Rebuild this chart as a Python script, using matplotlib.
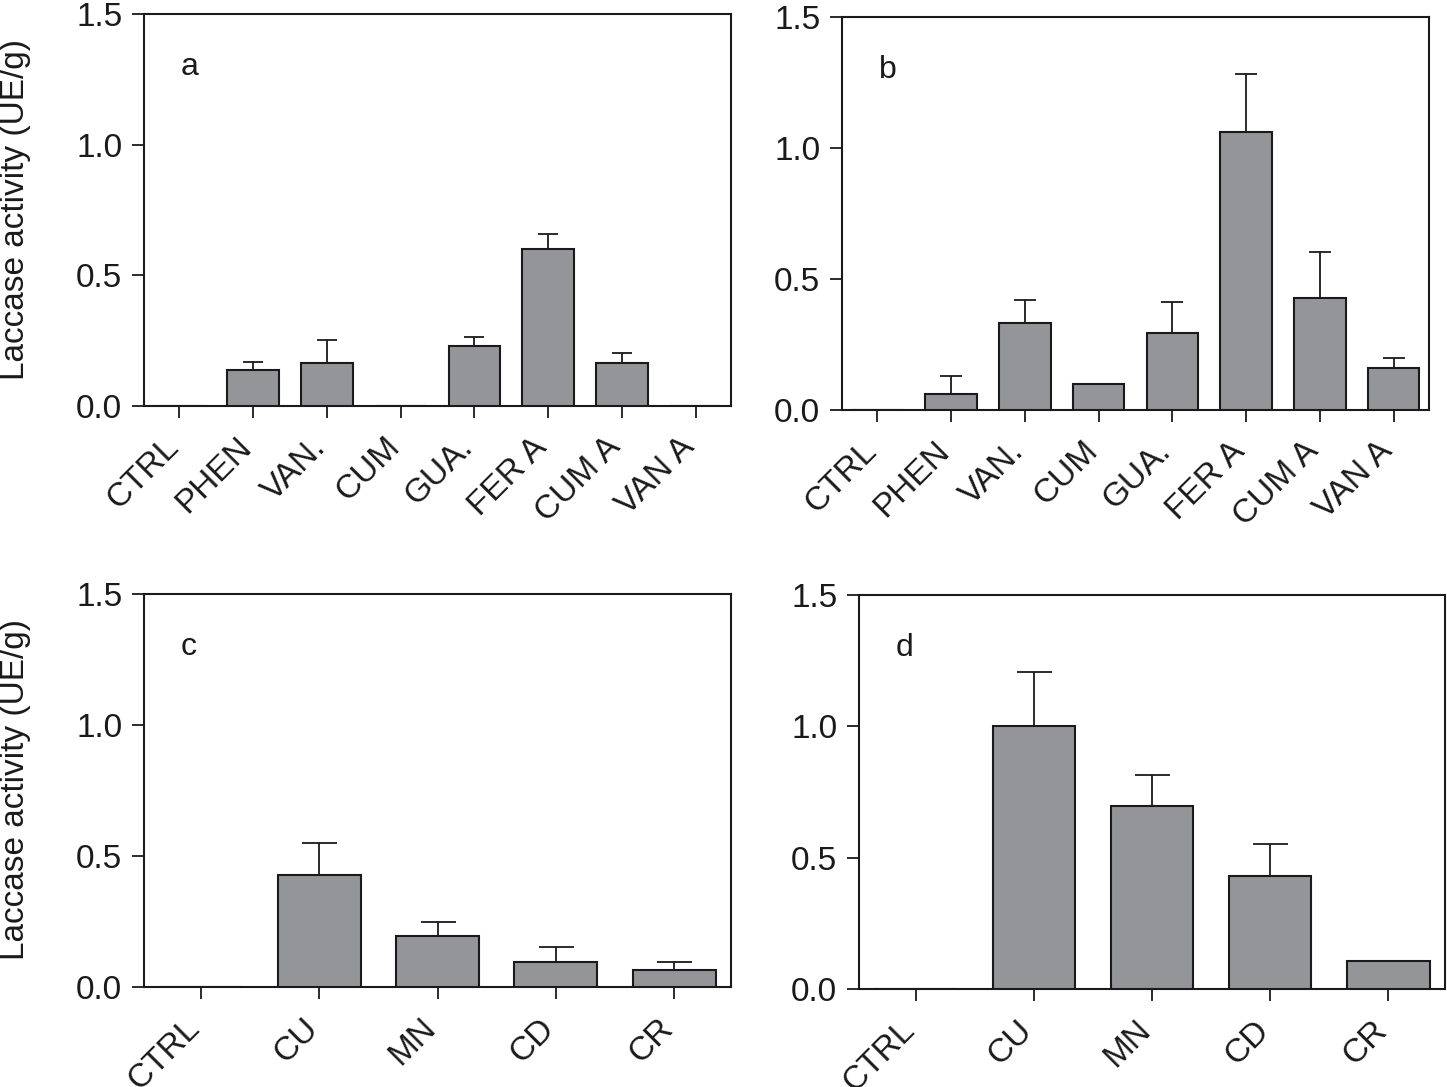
import matplotlib
matplotlib.use("Agg")
import matplotlib.pyplot as plt
import numpy as np

plt.rcParams['font.family'] = ['Liberation Sans', 'DejaVu Sans']

# ---- data ----
phenol_labels = ["CTRL", "PHEN", "VAN.", "CUM", "GUA.", "FER A", "CUM A", "VAN A"]
metal_labels = ["CTRL", "CU", "MN", "CD", "CR"]

a_values = [0.0, 0.137, 0.166, 0.0, 0.230, 0.600, 0.166, 0.0]
a_errors = [0.0, 0.031, 0.085, 0.0, 0.034, 0.059, 0.035, 0.0]

b_values = [0.0, 0.060, 0.331, 0.098, 0.294, 1.060, 0.429, 0.161]
b_errors = [0.0, 0.069, 0.088, 0.0, 0.117, 0.221, 0.173, 0.036]

c_values = [0.0, 0.428, 0.194, 0.096, 0.063]
c_errors = [0.0, 0.120, 0.056, 0.056, 0.033]

d_values = [0.0, 1.000, 0.696, 0.430, 0.105]
d_errors = [0.0, 0.206, 0.119, 0.121, 0.0]

panel_letters = ["a", "b", "c", "d"]
y_ticks = [0.0, 0.5, 1.0, 1.5]
y_label = "Laccase activity (UE/g)"

W, H = 1447, 1087
fig = plt.figure(figsize=(W / 100, H / 100), dpi=100)

def px_axes(x0, x1, ytop, ybot):
    return fig.add_axes([x0 / W, 1 - ybot / H, (x1 - x0) / W, (ybot - ytop) / H])

axes = [
    px_axes(144, 731, 14, 406),
    px_axes(842, 1429, 17, 410),
    px_axes(144, 731, 594, 987),
    px_axes(859, 1445, 595, 989),
]

panels = [
    (phenol_labels, a_values, a_errors, 7.5),
    (phenol_labels, b_values, b_errors, 8.0),
    (metal_labels, c_values, c_errors, 12.6),
    (metal_labels, d_values, d_errors, 12.6),
]

FS = 24
bar_color = "#939598"
for ax, (labels, vals, errs, cap), letter in zip(axes, panels, panel_letters):
    x = np.arange(len(labels))
    ax.bar(x, vals, width=0.7, color=bar_color, edgecolor="#1a1a1a",
           linewidth=1.5, zorder=3)
    e = np.array(errs)
    mask = e > 0
    ax.errorbar(x[mask], np.array(vals)[mask],
                yerr=[np.zeros(mask.sum()), e[mask]],
                fmt="none", ecolor="#1a1a1a", elinewidth=1.3,
                capsize=cap, capthick=1.3, zorder=2)
    ax.set_xlim(-0.48, len(labels) - 1 + 0.48)
    ax.set_ylim(0, 1.5)
    ax.set_yticks(y_ticks)
    ax.set_yticklabels([f"{t:.1f}" for t in y_ticks])
    ax.set_xticks(x)
    ax.set_xticklabels(labels, rotation=45, ha="right", va="baseline",
                       rotation_mode="anchor")
    ax.tick_params(axis="both", direction="out", length=8.6, width=1.3,
                   labelsize=FS, color="#1a1a1a", labelcolor="#1a1a1a")
    ax.tick_params(axis="y", pad=7)
    ax.tick_params(axis="x", pad=22)
    for s in ax.spines.values():
        s.set_linewidth(1.5)
        s.set_color("#1a1a1a")
    ax.text(0.063, 0.845, letter, transform=ax.transAxes, fontsize=23,
            ha="left", va="baseline", color="#1a1a1a")

fig.text(16 / W, 1 - 210 / H, y_label, rotation=90, ha="center", va="center",
         fontsize=24, color="#1a1a1a")
fig.text(16 / W, 1 - 790 / H, y_label, rotation=90, ha="center", va="center",
         fontsize=24, color="#1a1a1a")

fig.savefig("out.png", dpi=100)
